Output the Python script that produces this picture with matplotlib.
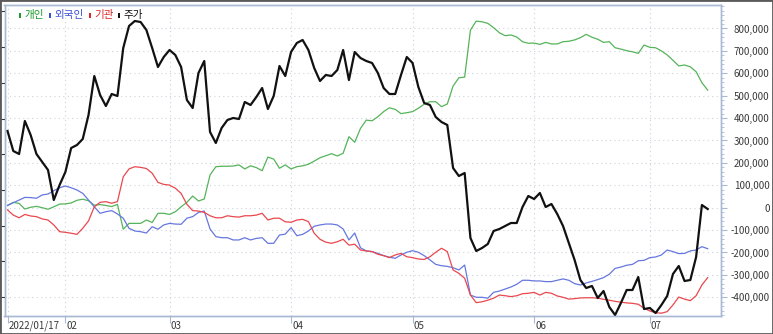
import matplotlib
matplotlib.use('Agg')
import matplotlib.pyplot as plt
from matplotlib.patches import Rectangle
from matplotlib.ticker import FuncFormatter, MultipleLocator
import matplotlib.transforms as mtransforms
import numpy as np

plt.rcParams['font.family'] = ['Noto Sans CJK KR', 'DejaVu Sans']

# cumulative net buying by investor group, thousands of shares, one value per trading day
gaein = [10, 24, 19, -6, 2, 6, 0, -7, 4, 16,
         17, 21, 33, 38, 31, 11, 14, 10, 5, 15,
         -96, -70, -70, -70, -55, -66, -25, -25, -30, -18,
         4, 24, 52, 30, 39, 146, 183, 185, 185, 186,
         191, 173, 187, 179, 165, 226, 217, 176, 191, 173,
         183, 187, 194, 208, 223, 232, 241, 231, 243, 317,
         292, 354, 391, 388, 406, 429, 446, 439, 420, 424,
         429, 444, 462, 473, 473, 451, 463, 543, 580, 583,
         793, 833, 830, 823, 804, 781, 768, 771, 762, 741,
         734, 735, 729, 738, 731, 731, 741, 743, 749, 759,
         774, 761, 752, 738, 741, 714, 708, 701, 696, 689,
         726, 716, 714, 700, 682, 658, 633, 637, 629, 607,
         558, 525]
oeguk = [10, 22, 34, 46, 45, 42, 57, 61, 76, 89,
         97, 89, 79, 64, 34, 4, -25, -18, -13, -28,
         -47, -92, -104, -107, -113, -85, -96, -77, -70, -73,
         -74, -47, -40, -21, -15, -95, -129, -134, -134, -144,
         -144, -134, -144, -137, -134, -159, -159, -122, -118, -89,
         -125, -119, -104, -83, -77, -73, -73, -77, -95, -144,
         -113, -179, -193, -196, -204, -214, -221, -226, -211, -199,
         -192, -199, -214, -233, -253, -259, -262, -268, -278, -256,
         -390, -400, -400, -404, -378, -372, -363, -354, -342, -324,
         -324, -327, -327, -330, -330, -324, -318, -324, -339, -345,
         -336, -329, -321, -312, -297, -271, -265, -257, -253, -237,
         -235, -223, -220, -211, -189, -196, -205, -204, -193, -189,
         -174, -183]
gigwan = [-10, -33, -45, -30, -37, -40, -50, -55, -77, -107,
          -110, -114, -119, -92, -59, 4, 24, 27, 20, 27,
          138, 173, 183, 180, 175, 154, 113, 104, 101, 87,
          64, 15, -13, -15, -21, -36, -45, -45, -36, -40,
          -42, -36, -36, -33, -25, -55, -47, -47, -63, -65,
          -55, -52, -62, -114, -141, -154, -159, -152, -141, -167,
          -163, -189, -193, -196, -208, -214, -223, -211, -204, -219,
          -223, -229, -231, -219, -199, -181, -196, -278, -293, -315,
          -390, -424, -420, -413, -404, -390, -393, -397, -393, -384,
          -382, -378, -390, -378, -382, -394, -400, -408, -406, -403,
          -402, -402, -404, -409, -413, -418, -422, -425, -427, -431,
          -449, -461, -469, -471, -464, -434, -399, -408, -415, -393,
          -345, -312]
# closing price (won)
price = [78500, 76500, 76200, 79500, 78100, 76200, 75400, 74600, 71600, 73100,
         74400, 76800, 77100, 77700, 80100, 84000, 82100, 81000, 82200, 82000,
         86800, 89000, 89500, 89400, 88600, 86800, 84900, 85900, 86600, 86100,
         84900, 81600, 80800, 84300, 85500, 78400, 77300, 78800, 79600, 79800,
         79700, 81400, 81100, 81900, 82800, 80700, 82000, 85000, 84000, 86400,
         87300, 87600, 86600, 84800, 83500, 84100, 84000, 84600, 86600, 83600,
         86400, 85800, 85500, 85300, 84300, 82800, 82200, 82200, 84100, 85900,
         85300, 82900, 81300, 81100, 79900, 79400, 79100, 74800, 74000, 74300,
         67800, 66500, 66800, 67200, 68500, 68700, 69000, 69300, 69300, 70900,
         72000, 71700, 72300, 70900, 71200, 70200, 69000, 67300, 65600, 63600,
         62800, 63000, 61800, 62500, 60900, 60100, 61300, 62600, 62600, 63900,
         60700, 60800, 60300, 61100, 62000, 64200, 65000, 63500, 63600, 65900,
         71100, 70700]

month_pos = [0, 10, 28, 49, 70, 91, 111]
month_lbl = ['2022/01/17', '02', '03', '04', '05', '06', '07']

W, H = 773, 334
fig = plt.figure(figsize=(W / 100, H / 100), dpi=100)
fig.patch.set_facecolor('white')
ax = fig.add_axes([4.5 / W, 1 - 316 / H, (721 - 4.5) / W, (316 - 5) / H])
ax2 = ax.twinx()

x = np.arange(len(price))
ax.plot(x, np.array(gaein) * 1000, color='#55b45a', lw=0.9)
ax.plot(x, np.array(oeguk) * 1000, color='#6677df', lw=0.9)
ax.plot(x, np.array(gigwan) * 1000, color='#e9484d', lw=0.9)
ax2.plot(x, price, color='#111111', lw=1.6)

ax.set_xlim(-0.52, 123.3)
ax.set_ylim(-483500, 904900)
ax2.set_ylim(60000, 91100)

border = '#a9b9d3'
for a in (ax, ax2):
    for s in a.spines.values():
        s.set_color(border)
        s.set_linewidth(1.0)

# right value axis
ax.yaxis.tick_right()
ax.set_yticks(np.arange(-400000, 800001, 100000))
ax.yaxis.set_minor_locator(MultipleLocator(20000))
ax.yaxis.set_major_formatter(FuncFormatter(lambda v, p: f'{v:,.0f}'))
ax.tick_params(axis='y', which='major', length=4, color=border, pad=31,
               labelsize=7, labelcolor='#3a3a3a')
ax.tick_params(axis='y', which='minor', length=2, width=0.6, color=border)
for lab in ax.get_yticklabels():
    lab.set_horizontalalignment('right')

# price axis: marks only
ax2.yaxis.tick_left()
ax2.set_yticks(np.arange(61900, 91100, 3570))
ax2.tick_params(axis='y', length=3, color='#333333', labelleft=False)

# x axis: month ticks, labels to the right of each tick
ax.set_xticks(month_pos)
ax.tick_params(axis='x', length=5, color=border, labelbottom=False)
trans = mtransforms.blended_transform_factory(ax.transData, ax.transAxes)
for p, lbl in zip(month_pos, month_lbl):
    ax.text(p + 0.2, -0.032, lbl, transform=trans, ha='left', va='center',
            fontsize=7, color='#3a3a3a')

ax.grid(True, ls=(0, (1, 3)), color='#cdd2db', lw=0.8)
ax.set_axisbelow(True)

# legend
items = [('개인', '#1f9a30', 19), ('외국인', '#3c50d2', 49),
         ('기관', '#e02525', 89), ('주가', '#111111', 118)]
for name, col, px in items:
    fig.add_artist(Rectangle((px / W, 1 - 18 / H), 2 / W, 5 / H,
                             transform=fig.transFigure, color=col, lw=0))
    fig.text((px + 5) / W, 1 - 15 / H, name, color=col, fontsize=7.6,
             ha='left', va='center')

fig.add_artist(Rectangle((0, 0), 1, 1, transform=fig.transFigure,
                         fill=False, edgecolor='#5a5a5a', lw=2))

fig.savefig('out.png', dpi=100)
